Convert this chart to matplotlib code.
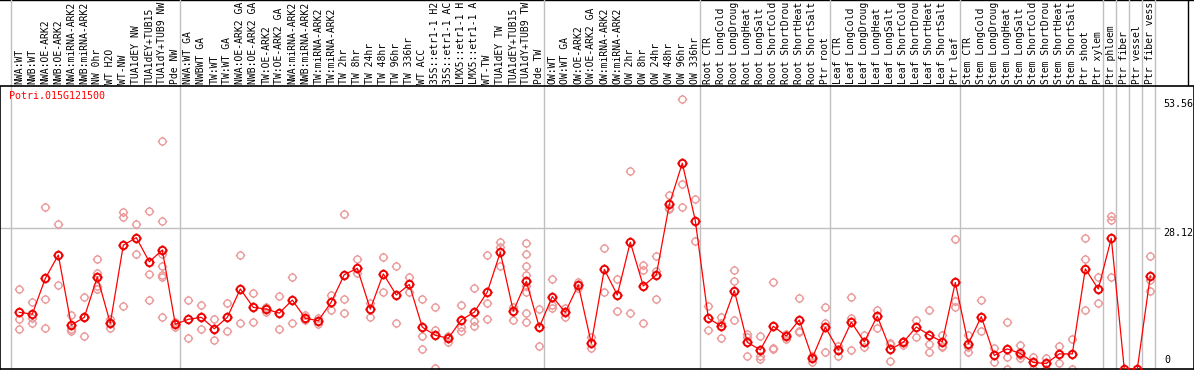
import numpy as np
import matplotlib
matplotlib.use("Agg")
from matplotlib import pyplot as plt
from matplotlib.path import Path

gene = "Potri.015G121500"

samples = [
    "NWA:WT", "NWB:WT", "NWA:OE-ARK2", "NWB:OE-ARK2", "NWA:miRNA-ARK2", "NWB:miRNA-ARK2",
    "NW 0hr", "WT H2O", "WT-NW", "TUA1dEY NW", "TUA1dEY+TUB15 NW", "TUA1dY+TUB9 NW", "Pde NW",
    "NWA:WT GA", "NWBWT GA", "TW:WT", "TW:WT GA", "NWA:OE-ARK2 GA", "NWB:OE-ARK2 GA",
    "TW:OE-ARK2", "TW:OE-ARK2 GA", "NWA:miRNA-ARK2", "NWB:miRNA-ARK2", "TW:miRNA-ARK2",
    "TW:miRNA-ARK2", "TW 2hr", "TW 8hr", "TW 24hr", "TW 48hr", "TW 96hr", "TW 336hr", "WT ACC",
    "35S::etr1-1 H2O", "35S::etr1-1 ACC", "LMX5::etr1-1 H2O", "LMX5::etr1-1 ACC", "WT-TW",
    "TUA1dEY TW", "TUA1dEY+TUB15 TW", "TUA1dY+TUB9 TW", "Pde TW",
    "OW:WT", "OW:WT GA", "OW:OE-ARK2", "OW:OE-ARK2 GA", "OW:miRNA-ARK2", "OW:miRNA-ARK2",
    "OW 2hr", "OW 8hr", "OW 24hr", "OW 48hr", "OW 96hr", "OW 336hr",
    "Root CTR", "Root LongCold", "Root LongDrought", "Root LongHeat", "Root LongSalt",
    "Root ShortCold", "Root ShortDrought", "Root ShortHeat", "Root ShortSalt", "Ptr root",
    "Leaf CTR", "Leaf LongCold", "Leaf LongDrought", "Leaf LongHeat", "Leaf LongSalt",
    "Leaf ShortCold", "Leaf ShortDrought", "Leaf ShortHeat", "Leaf ShortSalt", "Ptr leaf",
    "Stem CTR", "Stem LongCold", "Stem LongDrought", "Stem LongHeat", "Stem LongSalt",
    "Stem ShortCold", "Stem ShortDrought", "Stem ShortHeat", "Stem ShortSalt", "Ptr shoot",
    "Ptr xylem", "Ptr phloem", "Ptr fiber", "Ptr vessel", "Ptr fiber vessel",
]

# index of the first sample of each group
group_starts = [0, 13, 41, 53, 63, 73, 84, 85, 86, 87, 88]

means = [
    11.26, 10.9, 18.0, 22.65, 8.74, 10.27, 18.3, 9.1, 24.6, 26.1, 21.3, 23.65, 8.9,
    9.87, 10.27, 8.0, 10.27, 15.9, 12.25, 11.9, 11.1, 13.7, 10.07, 9.6, 13.3, 18.75, 20.0,
    11.9, 18.9, 14.7, 16.8, 8.3, 6.7, 6.1, 9.74, 11.3, 15.3, 23.2, 11.5, 17.4, 8.3,
    14.4, 11.26, 16.7, 5.1, 19.8, 14.7, 25.2, 16.5, 18.7, 32.7, 40.9, 29.5,
    10.1, 8.5, 15.6, 5.3, 3.8, 8.5, 6.56, 9.74, 2.2, 8.3,
    3.8, 9.3, 5.4, 10.5, 3.9, 5.3, 8.35, 6.76, 5.4, 17.2,
    5.0, 10.4, 2.7, 4.0, 3.1, 1.3, 1.1, 3.0, 3.0, 19.9, 15.9,
    26.0, 0.0, 0.0, 18.5,
]

replicates = [
    [15.8, 9.87, 7.88], [13.3, 10.1, 9.1], [32.2, 14.0, 8.15], [28.75, 16.7],
    [10.7, 7.9, 7.6], [14.4, 10.27, 6.5], [21.9, 19.1, 16.4, 15.9], [9.9, 9.1, 8.1],
    [31.2, 30.2, 12.5], [28.9, 22.85], [31.3, 18.8, 13.8],
    [45.4, 29.4, 22.8, 20.5, 18.6, 18.2, 10.3], [9.3, 8.4],
    [13.8, 6.1], [12.7, 7.9], [9.87, 8.0, 5.76], [13.05, 7.5], [22.65, 9.1], [15.2, 9.3],
    [12.4, 11.4], [14.5, 7.9], [18.3, 9.1], [10.7, 9.7], [10.1, 8.9], [14.8, 11.65],
    [30.9, 14.0, 11.1], [21.9, 19.1], [13.05, 10.27], [22.3, 15.4], [20.5, 9.1],
    [18.3, 15.4], [14.0, 6.6, 3.9], [12.25, 7.75, 0.13], [6.56, 6.1, 5.4],
    [12.7, 8.4, 7.6], [16.0, 9.6, 8.5], [22.6, 13.2, 9.87], [25.2, 24.3, 20.5],
    [12.4, 9.74], [25.0, 22.8, 20.5, 18.7, 16.4, 15.4, 11.1, 9.3], [11.9, 4.5],
    [17.8, 12.7, 12.05], [12.05, 10.4], [17.2, 16.0], [6.4, 4.1], [24.0, 15.4],
    [17.8, 11.46], [39.3, 11.1], [20.7, 19.7, 9.1], [22.5, 19.5, 14.0],
    [34.5, 31.9, 31.7], [53.56, 36.7, 32.1], [33.7, 25.4],
    [12.5, 7.75], [10.27, 9.1, 6.2], [19.6, 17.4, 9.74], [6.96, 6.4, 2.6],
    [6.56, 2.6, 1.9], [17.3, 4.2, 3.9], [6.96, 5.9], [14.2, 7.6, 7.3], [2.65, 1.46],
    [12.25, 9.1, 3.3],
    [4.6, 2.6], [14.4, 10.1, 3.7], [6.8, 4.4], [11.7, 8.1], [5.1, 4.9, 1.66], [5.6, 4.8],
    [9.74, 6.4], [11.7, 5.0, 3.3], [6.76, 4.6, 4.3], [25.8, 13.5, 12.25],
    [6.76, 4.4, 3.4], [13.7, 7.55], [4.1, 1.3], [9.3, 2.4, 0.0], [4.7, 2.8, 2.1],
    [2.45, 0.07], [2.25, 0.07], [4.6, 1.1], [5.96, 0.07], [26.0, 21.8, 11.7],
    [18.3, 13.2],
    [30.5, 29.6, 18.3], [], [], [22.5, 17.7, 15.6],
]

y_top = 56.24
mid_line = 28.12
max_value = 53.56

W, H = 1194, 370
mono = "DejaVu Sans Mono"
fs = 7.2
max_chars = 14  # the header only has room for this many characters


def gear_marker():
    # open circle with four small ticks, like the pixel markers of the original
    circle = Path.unit_circle()
    verts = list(circle.vertices)
    codes = list(circle.codes)
    for dx, dy in [(0, 1), (0, -1), (1, 0), (-1, 0)]:
        verts += [(dx * 1.0, dy * 1.0), (dx * 1.35, dy * 1.35)]
        codes += [Path.MOVETO, Path.LINETO]
    return Path(verts, codes)


marker = gear_marker()

fig = plt.figure(figsize=(W / 100, H / 100), dpi=100)

# pixel -> data mapping for x: sample i sits at pixel 19.3 + 13 * i
x0, step = 19.3, 13.0
xlim = ((0 - x0) / step, (W - x0) / step)
sep_x = [k - 0.66 for k in group_starts]

# main plot area: pixel rows 86..369
ax = fig.add_axes([0, 1 / H, 1, (369 - 86) / H])
ax.set_xlim(*xlim)
ax.set_ylim(0, y_top)
ax.set_xticks([])
ax.set_yticks([])
ax.spines["top"].set_visible(False)
for s in ["left", "bottom", "right"]:
    ax.spines[s].set_color("black")
    ax.spines[s].set_linewidth(1.2)

for x in sep_x:
    ax.axvline(x, color="#c0c0c0", lw=1.0, zorder=1)
ax.hlines(mid_line, xlim[0], (1160 - x0) / step, color="#c0c0c0", lw=1.0, zorder=1)

xs = np.arange(len(samples))
for i, reps in enumerate(replicates):
    if reps:
        ax.plot([i] * len(reps), reps, linestyle="none", marker=marker, markersize=6.8,
                markerfacecolor="none", markeredgecolor="#eb9a9a", markeredgewidth=1.0,
                zorder=2)

ax.plot(xs, means, color="red", lw=0.9, zorder=3)
ax.plot(xs, means, linestyle="none", marker=marker, markersize=7.2,
        markerfacecolor="none", markeredgecolor="#ee0000", markeredgewidth=1.4, zorder=4)

ax.text((9 - x0) / step, y_top - (96 - 86) * y_top / 283, gene, color="red",
        family=mono, fontsize=fs, va="center", ha="left")

lab_x = (1163 - x0) / step
ax.text(lab_x, max_value, "%.2f" % max_value, family=mono, fontsize=fs, va="top", ha="left")
ax.text(lab_x, mid_line, "%.2f" % mid_line, family=mono, fontsize=fs, va="top", ha="left")
ax.text((1164 - x0) / step, 0.8, "0", family=mono, fontsize=fs, va="bottom", ha="left")

# header with the rotated sample names: pixel rows 0..86
hx = fig.add_axes([0, (H - 86) / H, 1, 86 / H])
hx.set_xlim(*xlim)
hx.set_ylim(0, 86)
hx.set_xticks([])
hx.set_yticks([])
for s in ["left", "right", "top"]:
    hx.spines[s].set_visible(False)
hx.spines["bottom"].set_color("black")
hx.spines["bottom"].set_linewidth(1.2)
hx.axvline((1188 - x0) / step, color="black", lw=1.0)
hx.axhline(86, color="black", lw=1.0)
for x in sep_x:
    hx.axvline(x, color="#c0c0c0", lw=1.0)

for i, name in enumerate(samples):
    shown = name[:max_chars].rstrip()
    hx.text(i, 2.5, shown, rotation=90, family=mono, fontsize=7.0, ha="center",
            va="bottom")

fig.savefig("out.png", dpi=100)
